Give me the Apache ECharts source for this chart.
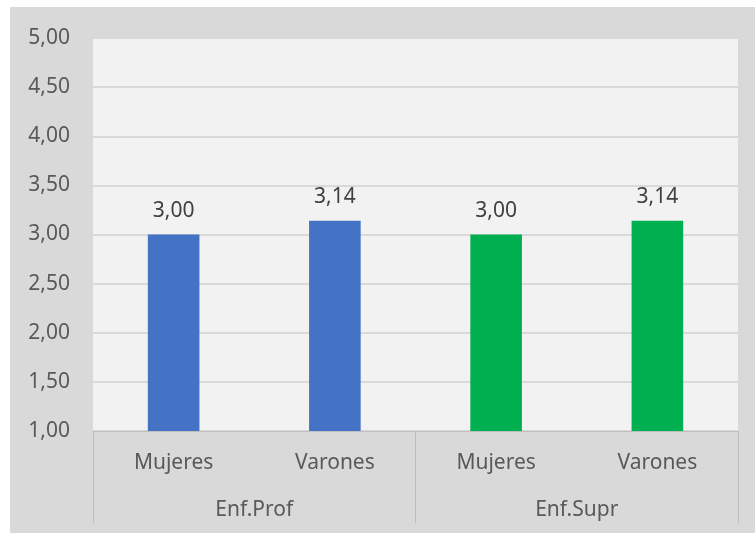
<!DOCTYPE html>
<html><head><meta charset="utf-8">
<script src="https://cdn.jsdelivr.net/npm/echarts@6/dist/echarts.min.js"></script>
<style>
html,body{margin:0;padding:0;background:#fff;}
#wrap{position:absolute;left:10px;top:7px;width:745px;height:526px;background:#d9d9d9;}
#c{width:745px;height:526px;}
</style></head>
<body><div id="wrap"><div id="c"></div></div>
<script>
const categories = ['Mujeres','Varones','Mujeres','Varones'];
const groups = ['Enf.Prof','Enf.Supr'];
const values = [3.00, 3.14, 3.00, 3.14];
const barColors = ['#4472c4','#4472c4','#00b050','#00b050'];
const yTicks = {min:1, max:5, interval:0.5};

const fmt = v => v.toFixed(2).replace('.', ',');
const font = 'Noto Sans';
const fs = 21;
const chart = echarts.init(document.getElementById('c'), null, {renderer:'canvas'});
chart.setOption({
  animation:false,
  textStyle:{fontFamily:font},
  grid:{left:83, right:17, top:31, bottom:102, show:true, backgroundColor:'#f2f2f2', borderWidth:0},
  xAxis:[
    {type:'category', data:categories, position:'bottom',
     axisLine:{show:true, lineStyle:{color:'#bfbfbf', width:1}},
     axisTick:{show:false},
     axisLabel:{color:'#595959', fontSize:fs, margin:22, fontFamily:font}},
    {type:'category', data:groups, position:'bottom', offset:0,
     axisLine:{show:false},
     axisTick:{show:true, length:92, lineStyle:{color:'#bfbfbf', width:1}},
     axisLabel:{color:'#595959', fontSize:fs, margin:69, fontFamily:font}}
  ],
  yAxis:{type:'value', min:yTicks.min, max:yTicks.max, interval:yTicks.interval,
    axisLine:{show:false}, axisTick:{show:false},
    splitLine:{lineStyle:{color:'#d9d9d9', width:2}},
    axisLabel:{color:'#595959', fontSize:fs, margin:23, formatter:v=>fmt(v), fontFamily:font}},
  series:[{
    type:'bar', xAxisIndex:0, barWidth:'32%',
    data: values.map((v,i)=>({value:v, itemStyle:{color:barColors[i]}})),
    label:{show:true, position:'top', distance:13, color:'#404040', fontSize:fs, fontFamily:font, formatter:p=>fmt(p.value)}
  }]
});
</script></body></html>
